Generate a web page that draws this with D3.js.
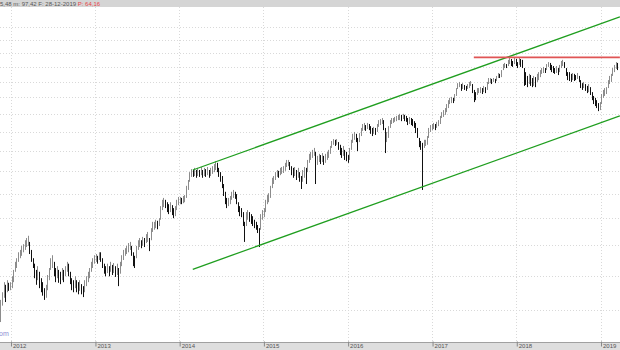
<!DOCTYPE html>
<html>
<head>
<meta charset="utf-8">
<script src="https://cdn.jsdelivr.net/npm/d3@7"></script>
<style>
  html, body { margin: 0; padding: 0; background: #fff; overflow: hidden; }
  svg { display: block; font-family: "Liberation Sans", Arial, sans-serif; }
</style>
</head>
<body>
<div id="chart"></div>
<script>
// Weekly bars, first week ending 18-11-2011
const firstWeek = "2011-11-18";

const weekHigh = [
  36.4, 37.5, 39.0, 38.6, 39.3, 38.9, 39.0, 39.9, 40.9, 42.2, 42.8, 43.8,
  44.2, 44.9, 45.2, 45.9, 46.3, 46.7, 45.6, 44.2, 42.8, 41.9, 40.9, 41.5,
  40.6, 39.6, 39.0, 38.1, 38.6, 40.1, 41.2, 42.8, 43.3, 42.2, 41.2, 41.5, 40.9,
  40.6, 41.2, 40.9, 41.5, 42.2, 41.9, 40.6, 39.6, 39.3, 39.9, 39.3, 39.0,
  39.3, 38.7, 38.4, 39.3, 39.9, 40.6, 41.2, 42.2, 42.8, 43.3, 43.5, 43.2, 43.8,
  43.8, 42.8, 41.9, 41.5, 41.9, 41.5, 42.2, 41.7, 42.0, 41.5, 41.9, 41.2,
  42.2, 43.3, 44.2, 44.5, 44.9, 45.4, 45.6, 44.9, 43.8, 43.2, 44.9, 45.9,
  46.3, 45.9, 46.5, 46.3, 47.0, 47.4, 46.3, 48.1, 49.3, 49.3, 49.7, 49.5, 50.0,
  52.4, 53.7, 54.1, 53.7, 53.2, 52.8, 53.2, 52.6, 52.0, 52.4, 53.7, 54.3,
  54.3, 54.1, 54.5, 54.7, 56.7, 58.0, 59.8, 60.5, 60.3, 60.8, 60.3, 60.8, 60.3,
  61.0, 60.3, 60.8, 60.5, 61.0, 60.3, 60.8, 61.2,
  61.7, 62.4, 62.0, 60.8, 59.8, 58.9, 57.1, 55.4, 54.1, 54.1,
  54.5, 55.4, 55.8, 55.4, 54.9, 53.2, 52.4, 52.0, 51.2, 49.3, 51.2, 51.6, 51.2,
  50.8, 50.4, 49.7, 49.3, 48.7, 48.1, 50.8, 51.6, 52.0, 53.7, 54.7, 55.1,
  56.7, 58.5, 58.9, 59.8, 60.3, 60.1, 60.8, 61.0, 61.2, 62.0, 62.7, 62.7,
  62.2, 61.2, 60.8, 61.0, 60.3, 60.8, 59.8, 58.9, 60.3, 61.0, 60.8, 62.7, 64.2,
  64.7, 65.2, 65.7, 64.7, 63.7, 64.2, 63.9, 64.4, 63.7, 64.2, 64.7, 65.2,
  66.2, 67.5, 68.0, 67.8, 68.0, 67.2, 66.5, 65.7, 66.2, 65.2, 64.7, 63.9,
  65.7, 67.8, 69.4, 69.9, 69.4, 68.3, 69.6, 71.0, 72.1, 72.4, 71.8, 72.4, 72.1,
  71.5, 71.0, 71.3, 71.0, 72.1, 73.2, 73.5, 73.8, 73.2, 71.0, 69.9, 71.5,
  73.2, 73.8, 73.8, 74.1, 74.4, 74.7, 75.0, 74.7, 75.0, 74.7, 74.4, 73.8,
  74.1, 73.8, 73.5, 72.9, 72.4, 71.0, 68.3, 67.5, 67.0, 67.8, 67.8, 68.8, 71.0,
  71.8, 72.1, 72.4, 72.1, 72.7, 73.2, 74.4, 75.5, 76.1, 76.7, 77.9, 79.1,
  79.8, 80.1, 79.8, 81.0, 82.9, 84.5, 84.9, 84.2, 84.5, 83.9, 83.6, 84.2, 84.9,
  85.2, 84.2, 82.3, 81.6, 82.9, 82.9, 83.2, 82.9, 83.6, 83.2, 84.9, 86.2,
  86.2, 85.9, 86.2, 85.9, 86.9, 87.9, 87.6, 88.9, 91.0, 91.4, 91.0, 92.5,
  93.2, 92.8, 92.1, 93.2, 92.8, 91.7, 93.2, 92.8, 92.5, 89.6, 88.2, 86.9, 87.6,
  87.2, 86.2, 86.9, 86.5, 87.6, 88.2, 88.9, 89.6, 90.0, 89.6, 91.0, 91.7,
  91.4, 90.7, 90.3, 89.6, 90.3, 89.6, 90.7, 92.1, 92.5, 91.7, 89.6, 88.2,
  88.2, 87.6, 87.9, 87.6, 87.2, 87.9, 86.9, 85.5, 84.5, 84.9, 84.2, 83.6, 84.2,
  83.2, 81.6, 80.4, 79.8, 79.1, 78.2, 78.5, 81.0, 82.3, 82.9, 83.2, 85.5,
  86.9, 87.6, 89.6, 90.7, 91.7, 91.4
];

const weekLow = [
  33.4, 35.6, 36.7, 36.1, 37.5, 37.7, 37.8, 38.1, 39.0, 40.6, 41.2, 42.2,
  42.8, 43.2, 43.8, 44.2, 44.7, 44.9, 43.5, 42.2, 41.2, 39.6, 38.6, 39.3,
  38.1, 37.5, 37.0, 36.4, 36.7, 37.8, 39.3, 40.9, 41.2, 39.9, 39.0, 39.6, 38.9,
  38.7, 39.3, 39.0, 39.9, 40.6, 39.9, 38.7, 37.8, 37.5, 38.1, 37.5, 37.2,
  37.7, 37.2, 36.8, 37.5, 38.4, 39.0, 39.6, 40.6, 41.2, 41.9, 42.2, 41.9, 42.5,
  42.2, 41.2, 40.3, 39.9, 40.4, 39.9, 40.6, 40.1, 40.4, 39.8, 40.1, 38.4,
  40.3, 41.5, 42.5, 43.2, 43.5, 43.8, 44.2, 43.2, 41.5, 41.2, 42.8, 44.2,
  44.7, 44.5, 44.9, 44.7, 45.4, 45.6, 44.0, 45.9, 47.4, 47.8, 48.1, 47.9, 48.5,
  49.7, 51.6, 52.2, 52.0, 51.2, 50.8, 51.2, 50.6, 50.0, 50.4, 51.6, 52.6,
  52.8, 52.8, 53.0, 53.2, 54.1, 55.8, 57.6, 58.7, 58.7, 58.9, 58.5, 58.9, 58.7,
  59.1, 58.5, 58.9, 58.7, 59.1, 58.5, 58.9, 59.4,
  59.8, 60.3, 59.8, 58.7, 57.6, 56.2, 54.5, 52.8, 52.0, 52.4,
  52.8, 53.7, 54.1, 53.9, 52.8, 51.2, 50.4, 50.2, 48.5, 45.6, 48.5, 49.7, 49.3,
  48.9, 48.5, 48.1, 47.8, 47.2, 44.7, 47.8, 49.7, 50.2, 51.2, 52.8, 53.2,
  54.1, 56.2, 57.1, 58.0, 58.7, 58.5, 59.1, 59.4, 59.6, 60.1, 61.0, 61.2,
  60.3, 59.1, 58.5, 58.9, 58.0, 58.5, 57.6, 56.0, 57.6, 58.5, 57.1, 59.8, 62.0,
  62.7, 63.2, 63.7, 57.1, 61.5, 62.2, 61.7, 62.2, 61.5, 62.0, 62.7, 63.2,
  64.2, 65.7, 66.5, 66.2, 66.5, 65.2, 63.9, 63.2, 63.7, 62.7, 62.4, 62.0,
  62.7, 65.2, 67.0, 67.8, 67.2, 64.9, 67.2, 68.8, 70.2, 70.4, 70.2, 70.7, 70.4,
  69.4, 68.8, 69.4, 69.1, 69.9, 71.3, 71.8, 72.1, 70.4, 64.4, 67.2, 68.3,
  71.0, 72.1, 72.4, 72.7, 72.9, 73.2, 73.2, 72.9, 73.5, 72.9, 72.7, 71.8,
  72.1, 71.8, 71.5, 71.0, 69.6, 68.3, 65.9, 65.2, 55.8, 65.7, 66.2, 66.5, 68.3,
  69.9, 70.4, 70.7, 70.4, 71.0, 71.5, 72.1, 73.8, 74.1, 74.7, 75.5, 76.7,
  77.9, 78.2, 78.2, 78.8, 80.4, 82.6, 83.2, 82.0, 82.6, 82.3, 82.0, 82.6, 82.9,
  83.6, 81.3, 78.5, 79.1, 80.7, 81.3, 81.3, 81.0, 81.6, 81.3, 82.3, 84.2,
  84.5, 84.2, 84.9, 84.5, 85.2, 86.2, 86.2, 86.5, 88.9, 89.6, 89.6, 90.3,
  91.0, 90.3, 90.0, 91.0, 90.3, 89.6, 90.7, 90.0, 89.6, 83.6, 83.9, 83.2, 84.2,
  83.6, 83.2, 83.6, 83.2, 84.9, 85.5, 86.5, 87.6, 87.9, 87.9, 88.9, 90.0,
  88.9, 88.2, 87.9, 87.6, 87.9, 87.2, 88.2, 89.6, 90.3, 89.6, 86.9, 85.5,
  85.2, 84.9, 85.5, 85.2, 85.5, 85.9, 84.9, 82.9, 82.3, 82.9, 82.0, 81.3, 81.6,
  80.7, 79.1, 77.9, 77.3, 76.7, 75.8, 76.1, 77.9, 79.8, 80.4, 81.0, 82.9,
  84.2, 84.9, 86.9, 88.2, 89.3, 88.9
];

const yearTicks = [2012, 2013, 2014, 2015, 2016, 2017, 2018, 2019];
const gridPrices = [35, 40, 45, 50, 55, 60, 65, 70, 75, 80, 85, 90, 95, 100, 105];

// trend channel and resistance drawn on the chart
const channelDates = ["2014-03-01", "2019-03-26"];
const channelUpper = [60.3, 109.3];
const channelLower = [41.0, 74.4];
const resistanceDates = ["2017-07-01", "2019-03-26"];
const resistancePrice = 93.4;

const headerInfo = "5,48 m: 97,42 F: 28-12-2019";
const headerLast = "P: 64,16";

function drawChart() {
    const width = 620, height = 350;
    const top = 7, bottom = 342;

    const svg = d3.select("#chart").append("svg")
        .attr("width", width)
        .attr("height", height);

    const parse = d3.timeParse("%Y-%m-%d");
    const start = parse(firstWeek);

    const x = d3.scaleTime()
        .domain([new Date(2012, 0, 1), new Date(2019, 0, 1)])
        .range([10.5, 600.5]);

    const y = d3.scaleLog()
        .domain([35, 95])
        .range([310, 53]);

    // header strip
    svg.append("rect")
        .attr("x", 0).attr("y", 0)
        .attr("width", width).attr("height", top)
        .attr("fill", "#d5d5d5");

    const header = svg.append("text")
        .attr("x", 0).attr("y", 5.6)
        .attr("font-size", "6px")
        .attr("fill", "#555");
    header.append("tspan").text(headerInfo + " ");
    header.append("tspan").attr("fill", "#e8454a").text(headerLast);

    // grid
    const grid = svg.append("g")
        .attr("stroke", "#d9d9d9")
        .attr("stroke-dasharray", "1,2");

    grid.selectAll(".hgrid")
        .data(gridPrices)
        .enter()
        .append("line")
        .attr("x1", 0).attr("x2", width)
        .attr("y1", d => Math.round(y(d)) + 0.5)
        .attr("y2", d => Math.round(y(d)) + 0.5);

    const yearDates = yearTicks.map(d => new Date(d, 0, 1));

    grid.selectAll(".vgrid")
        .data(yearDates)
        .enter()
        .append("line")
        .attr("x1", d => Math.round(x(d)) + 0.5)
        .attr("x2", d => Math.round(x(d)) + 0.5)
        .attr("y1", top).attr("y2", bottom);

    svg.append("clipPath").attr("id", "plot")
        .append("rect")
        .attr("x", 0).attr("y", top)
        .attr("width", width).attr("height", bottom - top);

    const plot = svg.append("g").attr("clip-path", "url(#plot)");

    // weekly bars
    const bars = weekHigh.map((h, i) => ({
        date: d3.timeDay.offset(start, 7 * i),
        high: h,
        low: weekLow[i]
    }));
    bars.forEach((d, i) => {
        const mid = (d.high + d.low) / 2;
        const prev = i > 0 ? (bars[i - 1].high + bars[i - 1].low) / 2 : mid;
        d.down = mid < prev;
    });

    plot.selectAll(".bar")
        .data(bars)
        .enter()
        .append("line")
        .attr("class", "bar")
        .attr("x1", d => Math.round(x(d.date)) + 0.5)
        .attr("x2", d => Math.round(x(d.date)) + 0.5)
        .attr("y1", d => y(d.high))
        .attr("y2", d => y(d.low))
        .attr("stroke", d => d.down ? "#111" : "#8c8c8c")
        .attr("stroke-width", 1);

    // channel lines
    const line = d3.line()
        .x(d => x(d[0]))
        .y(d => y(d[1]));

    [channelUpper, channelLower].forEach(vals => {
        plot.append("path")
            .attr("d", line(channelDates.map((d, i) => [parse(d), vals[i]])))
            .attr("fill", "none")
            .attr("stroke", "#1f9e1f")
            .attr("stroke-width", 1.3);
    });

    plot.append("path")
        .attr("d", line(resistanceDates.map(d => [parse(d), resistancePrice])))
        .attr("fill", "none")
        .attr("stroke", "#e05555")
        .attr("stroke-width", 1.6);

    // watermark remnant
    svg.append("text")
        .attr("x", -1).attr("y", 336)
        .attr("font-size", "7px")
        .attr("fill", "#8c8cd2")
        .text("om");

    // bottom axis band
    svg.append("rect")
        .attr("x", 0).attr("y", bottom)
        .attr("width", width).attr("height", height - bottom)
        .attr("fill", "#dedede");

    const axis = svg.append("g")
        .attr("transform", `translate(0,${bottom + 0.5})`)
        .call(d3.axisBottom(x)
            .tickValues(yearDates)
            .tickFormat(d3.timeFormat("%Y"))
            .tickSize(5));

    axis.select(".domain")
        .attr("stroke", "#a0a0a0")
        .attr("d", `M0,0H${width}`);
    axis.selectAll(".tick line")
        .attr("stroke", "#888")
        .attr("transform", "translate(0.5,-1)");
    axis.selectAll(".tick text")
        .attr("x", 2)
        .attr("y", 1.5)
        .attr("dy", "0.71em")
        .attr("text-anchor", "start")
        .attr("font-size", "6px")
        .attr("font-family", "\"Liberation Sans\", Arial, sans-serif")
        .attr("fill", "#555");
}

drawChart();
</script>
</body>
</html>
